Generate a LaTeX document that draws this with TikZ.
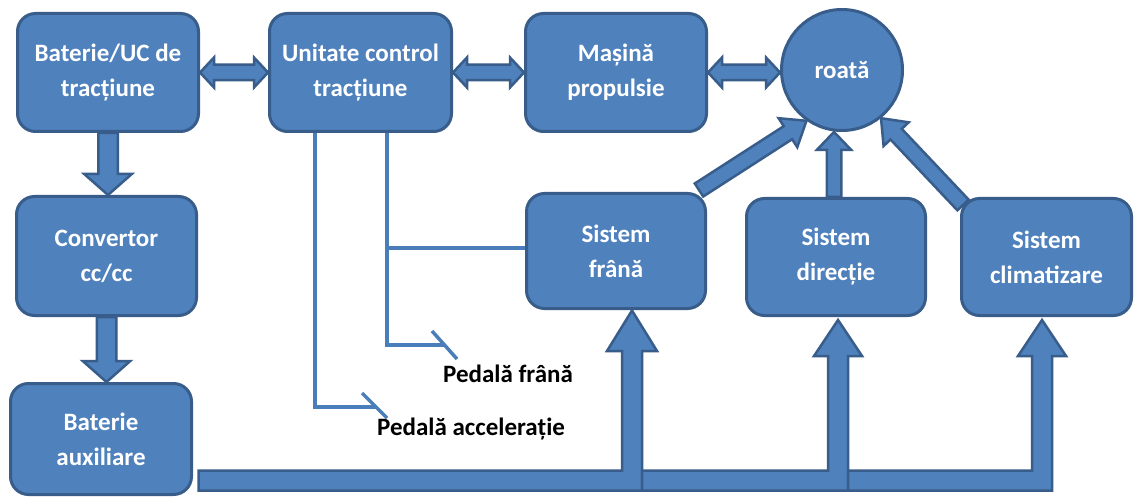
\documentclass[tikz,border=0pt]{standalone}
\usepackage{fontspec}
\setmainfont{Carlito}
\usetikzlibrary{calc}
\definecolor{boxfill}{HTML}{4F81BD}
\definecolor{boxline}{HTML}{385D8A}
\definecolor{wirecol}{HTML}{4A7EBB}
\newcommand\blockarr[5]{%
  \coordinate (baA) at (#1);
  \coordinate (baB) at (#2);
  \coordinate (baC) at ($(baB)!#5!(baA)$);
  \draw[arr] ($(baA)!#3!90:(baB)$) -- ($(baC)!#3!90:(baB)$) -- ($(baC)!#4!90:(baB)$) -- (baB)
     -- ($(baC)!#4!-90:(baB)$) -- ($(baC)!#3!-90:(baB)$) -- ($(baA)!#3!-90:(baB)$) -- cycle;
}
\newcommand\dblarr[5]{%
  \coordinate (daA) at (#1);
  \coordinate (daB) at (#2);
  \coordinate (daC) at ($(daA)!#5!(daB)$);
  \coordinate (daD) at ($(daB)!#5!(daA)$);
  \draw[arr] (daA) -- ($(daC)!#4!90:(daB)$) -- ($(daC)!#3!90:(daB)$) -- ($(daD)!#3!-90:(daA)$)
     -- ($(daD)!#4!-90:(daA)$) -- (daB) -- ($(daD)!#4!90:(daA)$) -- ($(daD)!#3!90:(daA)$)
     -- ($(daC)!#3!-90:(daB)$) -- ($(daC)!#4!-90:(daB)$) -- cycle;
}
\begin{document}
\begin{tikzpicture}[x=1pt, y=-1pt,
  font=\fontsize{25}{35}\selectfont\bfseries,
  box/.style={draw=boxline, fill=boxfill, line width=3pt, rounded corners=18pt,
    text=white, align=center, inner sep=0pt},
  arr/.style={draw=boxline, fill=boxfill, line width=2.5pt, line join=miter},
  wire/.style={draw=wirecol, line width=3.5pt},
  pedal/.style={text=black, anchor=base west, inner sep=0pt}]
\useasboundingbox (0,0) rectangle (1135,497);
\fill[white] (0,0) rectangle (1135,497);

% boxes
\node[box, minimum width=181pt, minimum height=118pt] (bat) at (108,72.5) {Baterie/UC de\\tracțiune};
\node[box, minimum width=182pt, minimum height=118pt] (uc) at (360.5,72.5) {Unitate control\\tracțiune};
\node[box, minimum width=181pt, minimum height=118pt] (mas) at (616,72.5) {Mașină\\propulsie};
\node[circle, draw=boxline, fill=boxfill, line width=3pt, minimum size=121pt,
  text=white, inner sep=0pt] (wheel) at (842,70) {roată};
\node[box, minimum width=180pt, minimum height=119pt] (conv) at (106.5,256) {Convertor\\cc/cc};
\node[box, minimum width=181pt, minimum height=111pt] (aux) at (101,439) {Baterie\\auxiliare};
\node[box, minimum width=179pt, minimum height=115pt] (frana) at (616,251) {Sistem\\frână};
\node[box, minimum width=179pt, minimum height=117pt] (dir) at (836,257) {Sistem\\direcție};
\node[box, minimum width=170pt, minimum height=117pt] (clim) at (1046.5,257) {Sistem\\climatizare};

% double arrows on the top row
\dblarr{bat.east}{uc.west}{7.75pt}{15pt}{14pt}
\dblarr{uc.east}{mas.west}{7.75pt}{15pt}{14pt}
\dblarr{mas.east}{mas.east -| wheel.west}{7.75pt}{15pt}{14pt}

% down arrows on the left
\blockarr{bat.south}{bat.south |- conv.north}{9.75pt}{23.75pt}{21pt}
\blockarr{conv.south}{conv.south |- aux.north}{9.75pt}{23.75pt}{21pt}

% arrows into the wheel
\coordinate (ftail) at ($(frana.north east)+(-8,-2)$);
\blockarr{ftail}{wheel.235}{7.75pt}{17.25pt}{22pt}
\coordinate (dtail) at ($(dir.north)+(-2,0)$);
\blockarr{dtail}{dtail |- wheel.south}{7.25pt}{17.25pt}{18pt}
\coordinate (ctail) at ($(clim.north west)+(3,8)$);
\blockarr{ctail}{wheel.309}{7.75pt}{17.25pt}{22pt}

% supply bus from the auxiliary battery
\draw[arr] (198.5,470.5) -- (622,470.5) -- (622,351) -- (607,351) -- (632,310.5)
  -- (657,351) -- (642,351) -- (642,490.5) -- (198.5,490.5) -- cycle;
\draw[arr] (642,470.5) -- (828,470.5) -- (828,356) -- (814,356) -- (838,320)
  -- (862,356) -- (848,356) -- (848,490.5) -- (642,490.5) -- cycle;
\draw[arr] (848,470.5) -- (1032,470.5) -- (1032,356) -- (1018,356) -- (1042,320)
  -- (1066,356) -- (1052,356) -- (1052,490.5) -- (848,490.5) -- cycle;

% signal wires
\coordinate (pf) at (445,345);
\coordinate (pa) at (376,407);
\coordinate (jn) at ($(uc.south west)+(119,115)$);
\draw[wire] ($(uc.south west)+(119,0)$) |- (pf);
\draw[wire] ($(pf)+(-13,-14)$) -- ($(pf)+(12,14)$);
\draw[wire] (jn) -- (jn -| frana.west);
\draw[wire] ($(uc.south west)+(47,0)$) |- (pa);
\draw[wire] ($(pa)+(-14,-14)$) -- ($(pa)+(11,11)$);

\node[pedal] (lpf) at (443,382) {Pedală frână};
\node[pedal] (lpa) at (377,435) {Pedală accelerație};
\end{tikzpicture}
\end{document}
